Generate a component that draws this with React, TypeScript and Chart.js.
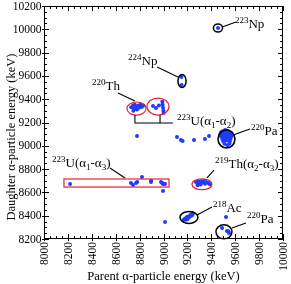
import React, { useEffect, useRef } from "react";
import { Chart, registerables } from "chart.js";

Chart.register(...registerables);

// ---- axis ticks ----
const xTickValues = [8000, 8200, 8400, 8600, 8800, 9000, 9200, 9400, 9600, 9800, 10000];
const yTickValues = [8200, 8400, 8600, 8800, 9000, 9200, 9400, 9600, 9800, 10000, 10200];
const minorStep = 50;
const xTitle = "Parent α-particle energy (keV)";
const yTitle = "Daughter α-particle energy (keV)";

// ---- data (parent keV, daughter keV) ----
const np223 = [[9456, 10011]];
const np224 = [[9150, 9590], [9152, 9522]];
const th220 = [
  [8730, 9330], [8745, 9345], [8752, 9318], [8760, 9352], [8770, 9335], [8778, 9312],
  [8790, 9345], [8800, 9328], [8810, 9355], [8820, 9335], [8832, 9345], [8748, 9300],
];
const u223a12 = [
  [8912, 9342], [8937, 9325], [8962, 9345], [8990, 9378], [8993, 9352],
  [8996, 9326], [8999, 9300], [9001, 9282],
];
const scattered = [
  [8778, 9084], [9113, 9076], [9146, 9050], [9160, 9042], [9255, 9050],
  [9347, 9058], [9381, 9084], [9013, 8346], [9523, 8389],
];
const pa220a = [
  [9475, 9100], [9482, 9118], [9490, 9088], [9500, 9110], [9510, 9122], [9520, 9100],
  [9530, 9115], [9540, 9092], [9550, 9108], [9560, 9098], [9572, 9085], [9486, 9075],
  [9505, 9080], [9525, 9072], [9545, 9070], [9500, 9040], [9510, 9018], [9530, 9045],
  [9535, 9005], [9555, 9040], [9520, 9060], [9492, 9058], [9562, 9060], [9515, 9135],
  [9540, 9128], [9552, 9020], [9495, 9125], [9528, 9132], [9548, 9118], [9565, 9112],
  [9512, 9095], [9535, 9082], [9478, 9085], [9558, 9080], [9500, 9095], [9522, 9088],
];
const u223a13 = [
  [8218, 8672], [8728, 8681], [8745, 8664], [8770, 8681], [8780, 8690], [8820, 8732],
  [8895, 8689], [8897, 8700], [8979, 8689], [8996, 8672], [9013, 8672], [8990, 8680],
  [8996, 8612],
];
const th219 = [
  [9272, 8690], [9282, 8678], [9292, 8695], [9300, 8680], [9310, 8668], [9318, 8698],
  [9328, 8684], [9338, 8692], [9348, 8674], [9360, 8688], [9375, 8680], [9388, 8670],
  [9286, 8662], [9345, 8700],
];
const ac218 = [
  [9165, 8360], [9175, 8372], [9185, 8365], [9190, 8382], [9200, 8390], [9210, 8384],
  [9220, 8400], [9230, 8410], [9240, 8404], [9247, 8420], [9200, 8370], [9225, 8395],
];
const pa220b = [[9490, 8294], [9531, 8269], [9548, 8251], [9543, 8266]];

const groups = [np223, np224, th220, u223a12, scattered, pa220a, u223a13, th219, ac218, pa220b];

// ---- annotations (data coordinates) ----
type Seg = { t: string; s?: "sup" | "sub" };
const ellipses = [
  { cx: 9456, cy: 10011, rx: 38, ry: 35, color: "#000000", w: 1.5 },
  { cx: 9155, cy: 9556, rx: 34, ry: 56, color: "#000000", w: 1.5 },
  { cx: 8774, cy: 9320, rx: 80, ry: 56, color: "#e8202a", w: 1.2 },
  { cx: 8954, cy: 9337, rx: 92, ry: 73, color: "#e8202a", w: 1.2 },
  { cx: 9527, cy: 9058, rx: 71, ry: 77, color: "#000000", w: 1.6 },
  { cx: 9322, cy: 8670, rx: 84, ry: 47, color: "#e8202a", w: 1.2 },
  { cx: 9213, cy: 8385, rx: 75, ry: 52, color: "#000000", w: 1.5 },
  { cx: 9506, cy: 8262, rx: 67, ry: 60, color: "#000000", w: 1.5 },
];
const rects = [{ x0: 8167, x1: 9046, y0: 8646, y1: 8715, color: "#e8202a", w: 1.2 }];
const lines = [
  [[9490, 10020], [9607, 10063]],
  [[8946, 9676], [9121, 9591]],
  [[8619, 9453], [8761, 9385]],
  [[8761, 9264], [8761, 9196], [9079, 9196]],
  [[8971, 9264], [8971, 9196]],
  [[9582, 9093], [9724, 9144]],
  [[8552, 8809], [8678, 8724]],
  [[9364, 8724], [9423, 8792]],
  [[9280, 8406], [9406, 8475]],
  [[9573, 8294], [9690, 8337]],
];
const labels: { x: number; y: number; segs: Seg[] }[] = [
  { x: 9598, y: 10015, segs: [{ t: "223", s: "sup" }, { t: "Np" }] },
  { x: 8703, y: 9694, segs: [{ t: "224", s: "sup" }, { t: "Np" }] },
  { x: 8402, y: 9479, segs: [{ t: "220", s: "sup" }, { t: "Th" }] },
  { x: 9113, y: 9179, segs: [{ t: "223", s: "sup" }, { t: "U(α" }, { t: "1", s: "sub" }, { t: "-α" }, { t: "2", s: "sub" }, { t: ")" }] },
  { x: 9732, y: 9093, segs: [{ t: "220", s: "sup" }, { t: "Pa" }] },
  { x: 8067, y: 8818, segs: [{ t: "223", s: "sup" }, { t: "U(α" }, { t: "1", s: "sub" }, { t: "-α" }, { t: "3", s: "sub" }, { t: ")" }] },
  { x: 9431, y: 8809, segs: [{ t: "219", s: "sup" }, { t: "Th(α" }, { t: "2", s: "sub" }, { t: "-α" }, { t: "3", s: "sub" }, { t: ")" }] },
  { x: 9414, y: 8432, segs: [{ t: "218", s: "sup" }, { t: "Ac" }] },
  { x: 9699, y: 8337, segs: [{ t: "220", s: "sup" }, { t: "Pa" }] },
];

const FONT = '"Liberation Serif", "Times New Roman", serif';

const overlay = {
  id: "overlay",
  afterDatasetsDraw(chart: any) {
    const ctx = chart.ctx as CanvasRenderingContext2D;
    const xs = chart.scales.x;
    const ys = chart.scales.y;
    const px = (v: number) => xs.getPixelForValue(v);
    const py = (v: number) => ys.getPixelForValue(v);
    const { left, right, top, bottom } = chart.chartArea;
    ctx.save();

    // annotations
    ellipses.forEach((e) => {
      const cx = px(e.cx), cy = py(e.cy);
      const rx = Math.abs(px(e.cx + e.rx) - cx);
      const ry = Math.abs(py(e.cy + e.ry) - cy);
      ctx.beginPath();
      ctx.ellipse(cx, cy, rx, ry, 0, 0, Math.PI * 2);
      ctx.strokeStyle = e.color;
      ctx.lineWidth = e.w;
      ctx.stroke();
    });
    rects.forEach((r) => {
      ctx.strokeStyle = r.color;
      ctx.lineWidth = r.w;
      ctx.strokeRect(px(r.x0), py(r.y1), px(r.x1) - px(r.x0), py(r.y0) - py(r.y1));
    });
    ctx.strokeStyle = "#000";
    ctx.lineWidth = 1.1;
    lines.forEach((l) => {
      ctx.beginPath();
      l.forEach((p, i) => (i === 0 ? ctx.moveTo(px(p[0]), py(p[1])) : ctx.lineTo(px(p[0]), py(p[1]))));
      ctx.stroke();
    });
    ctx.fillStyle = "#000";
    ctx.textBaseline = "alphabetic";
    ctx.textAlign = "left";
    labels.forEach((lb) => {
      let x = px(lb.x);
      const y = py(lb.y);
      lb.segs.forEach((s) => {
        if (s.s === "sup") {
          ctx.font = `9px ${FONT}`;
          ctx.fillText(s.t, x, y - 5);
        } else if (s.s === "sub") {
          ctx.font = `9px ${FONT}`;
          ctx.fillText(s.t, x, y + 3);
        } else {
          ctx.font = `13px ${FONT}`;
          ctx.fillText(s.t, x, y);
        }
        x += ctx.measureText(s.t).width;
      });
    });

    // frame
    ctx.strokeStyle = "#000";
    ctx.lineWidth = 1;
    ctx.strokeRect(left + 0.5, top + 0.5, right - left - 1, bottom - top - 1);

    // ticks
    ctx.beginPath();
    for (let v = xs.min; v <= xs.max + 0.01; v += minorStep) {
      const major = xTickValues.includes(v);
      const x = Math.round(px(v)) + 0.5;
      const len = major ? 5 : 3;
      ctx.moveTo(x, bottom + (major ? 2 : 0));
      ctx.lineTo(x, bottom - len);
      ctx.moveTo(x, top);
      ctx.lineTo(x, top + len);
    }
    for (let v = ys.min; v <= ys.max + 0.01; v += minorStep) {
      const major = yTickValues.includes(v);
      const y = Math.round(py(v)) + 0.5;
      const len = major ? 5 : 3;
      ctx.moveTo(left - (major ? 2 : 0), y);
      ctx.lineTo(left + len, y);
      ctx.moveTo(right, y);
      ctx.lineTo(right - len, y);
    }
    ctx.stroke();

    // tick labels
    ctx.font = `11.5px ${FONT}`;
    ctx.fillStyle = "#000";
    ctx.textAlign = "right";
    ctx.textBaseline = "middle";
    yTickValues.forEach((v) => ctx.fillText(String(v), left - 2.5, py(v) + 0.5));
    xTickValues.forEach((v) => {
      ctx.save();
      ctx.translate(px(v) + 1, bottom + 3);
      ctx.rotate(-Math.PI / 2);
      ctx.fillText(String(v), 0, 0);
      ctx.restore();
    });

    // titles
    ctx.font = `12.5px ${FONT}`;
    ctx.textAlign = "center";
    ctx.textBaseline = "middle";
    ctx.fillText(xTitle, (left + right) / 2, 277);
    ctx.save();
    ctx.translate(12, 137);
    ctx.rotate(-Math.PI / 2);
    ctx.fillText(yTitle, 0, 0);
    ctx.restore();

    ctx.restore();
  },
};

export default function App() {
  const ref = useRef<HTMLCanvasElement | null>(null);
  useEffect(() => {
    document.body.style.margin = "0";
    const canvas = ref.current!;
    const chart = new Chart(canvas, {
      type: "scatter",
      data: {
        datasets: groups.map((g) => ({
          data: g.map((p) => ({ x: p[0], y: p[1] })),
          pointRadius: 2,
          pointBorderWidth: 0,
          pointBackgroundColor: "#1e3cff",
          pointBorderColor: "#1e3cff",
        })),
      },
      options: {
        responsive: false,
        animation: false,
        layout: { padding: { left: 44, right: 8, top: 6, bottom: 45 } },
        plugins: { legend: { display: false }, tooltip: { enabled: false } },
        scales: {
          x: { type: "linear", min: 8000, max: 10000, display: false },
          y: { type: "linear", min: 8200, max: 10200, display: false },
        },
      },
      plugins: [overlay],
    });
    return () => chart.destroy();
  }, []);
  return (
    <div style={{ width: 291, height: 284 }}>
      <canvas ref={ref} width={291} height={284} style={{ display: "block", width: 291, height: 284 }} />
    </div>
  );
}
